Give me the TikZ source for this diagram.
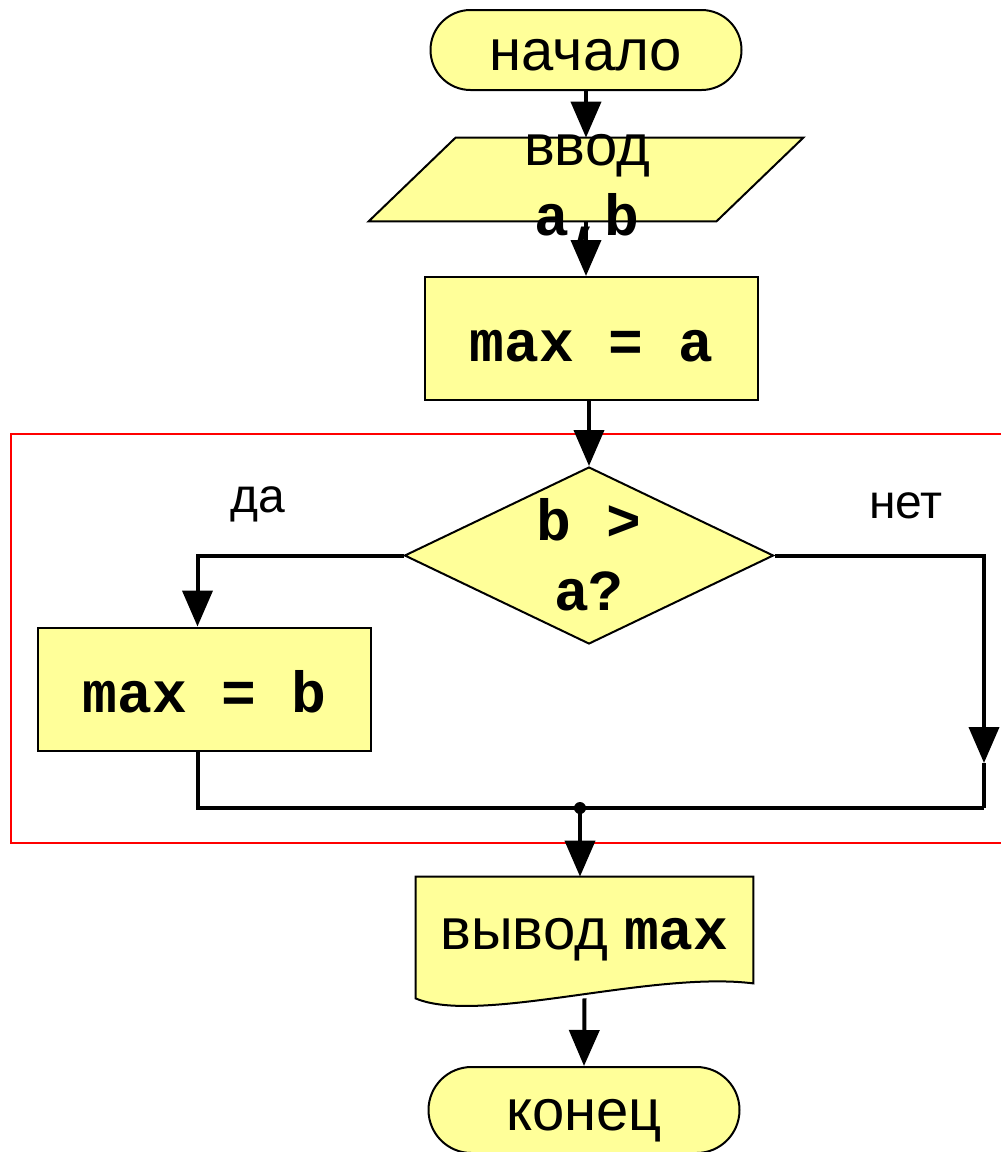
\documentclass[tikz,border=0pt]{standalone}
\usepackage{fontspec}
\setmainfont{Liberation Sans}
\setmonofont{Liberation Mono}
\usetikzlibrary{shapes.geometric,arrows.meta,calc,backgrounds}
\definecolor{flowfill}{RGB}{255,255,153}
\newcommand{\code}[1]{{\ttfamily\bfseries #1}}
\tikzset{
  big/.style={font=\fontsize{29}{35}\selectfont},
  base/.style={draw, line width=1pt, fill=flowfill, inner sep=0pt, big},
  term/.style={base, rounded corners=20pt, minimum width=155.5pt, minimum height=40pt,
    text height=20pt, text depth=0pt},
  inbox/.style={rectangle, inner sep=0pt, minimum width=173.5pt, minimum height=41.5pt},
  proc/.style={base, rectangle, minimum width=166.5pt, minimum height=61.5pt,
    text height=23pt, text depth=0pt},
  decide/.style={base, diamond, inner sep=3pt, minimum width=184.5pt, minimum height=88.5pt},
  doc/.style={rectangle, inner sep=0pt, minimum width=168.5pt, minimum height=60.5pt, big,
    text height=15pt, text depth=3pt},
  txt/.style={big, align=center, inner sep=0pt},
  branch/.style={font=\fontsize{24}{28}\selectfont, inner sep=0pt},
  flow/.style={line width=2pt, -{Triangle[length=18pt,width=15pt]}},
  link/.style={line width=2pt},
}
\begin{document}
\begin{tikzpicture}[x=0.5pt, y=-0.5pt]
	\useasboundingbox (0,0) rectangle (1001,1152);
	% frame round the branching
	\draw [red, line width=1pt] (11,434) rectangle (1012,843);

	\node [term] (start) at (586,50) {начало};
	\node [inbox] (input) at (586,179.5) {};
	\node [txt] (inputtext) at (587,190) {ввод\\\code{a,b}};
	\node [proc] (seta) at (591.5,338.5) {\code{max = a}};
	\node [decide] (cond) at (589,555.5) {};
	\node [txt] (condtext) at (589,555) {\code{b >}\\\code{a?}};
	\node [proc] (setb) at (204.5,689) {\code{max = b}};
	\node [doc] (output) at (584.5,937.5) {вывод \code{max}};
	\node [term, rounded corners=21.5pt, minimum height=43pt] (stop) at (584,1110) {конец};

	\node [branch] (yes) at (258,504) {да};
	\node [branch] (no) at (906,506) {нет};

	\coordinate (noarr) at (984,763);
	\coordinate (right) at (984,808);
	\coordinate (join) at (580,808);

	\begin{scope}[on background layer]
		\draw [line width=1pt, fill=flowfill] ($(input.north west)+(43.5,0)$) -- ($(input.north east)+(43.5,0)$)
			-- ($(input.south east)+(-43.5,0)$) -- ($(input.south west)+(-43.5,0)$) -- cycle;
		\draw [line width=1pt, fill=flowfill] (output.north west) -- (output.north east)
			-- ($(output.south east)+(0,-15)$) .. controls +(-103,-13) and +(64,27) .. (output.south west) -- cycle;
	\end{scope}

	\draw [flow] (start) -- (input);
	\draw [flow] (input.south) -- (input.south |- seta.north);
	\draw [flow] (cond.north |- seta.south) -- (cond.north);
	\draw [flow] (cond.west) -| ([xshift=-3.5pt]setb.north);
	\draw [flow] (cond.east) -| (noarr);
	\draw [link] (noarr) -- (right);
	\draw [link] ([xshift=-3.5pt]setb.south) |- (right);
	\fill (join) circle [radius=3pt];
	\draw [flow] (join) -- (join |- output.north);
	\draw [flow] (output.south) -- (stop.north);
\end{tikzpicture}
\end{document}
